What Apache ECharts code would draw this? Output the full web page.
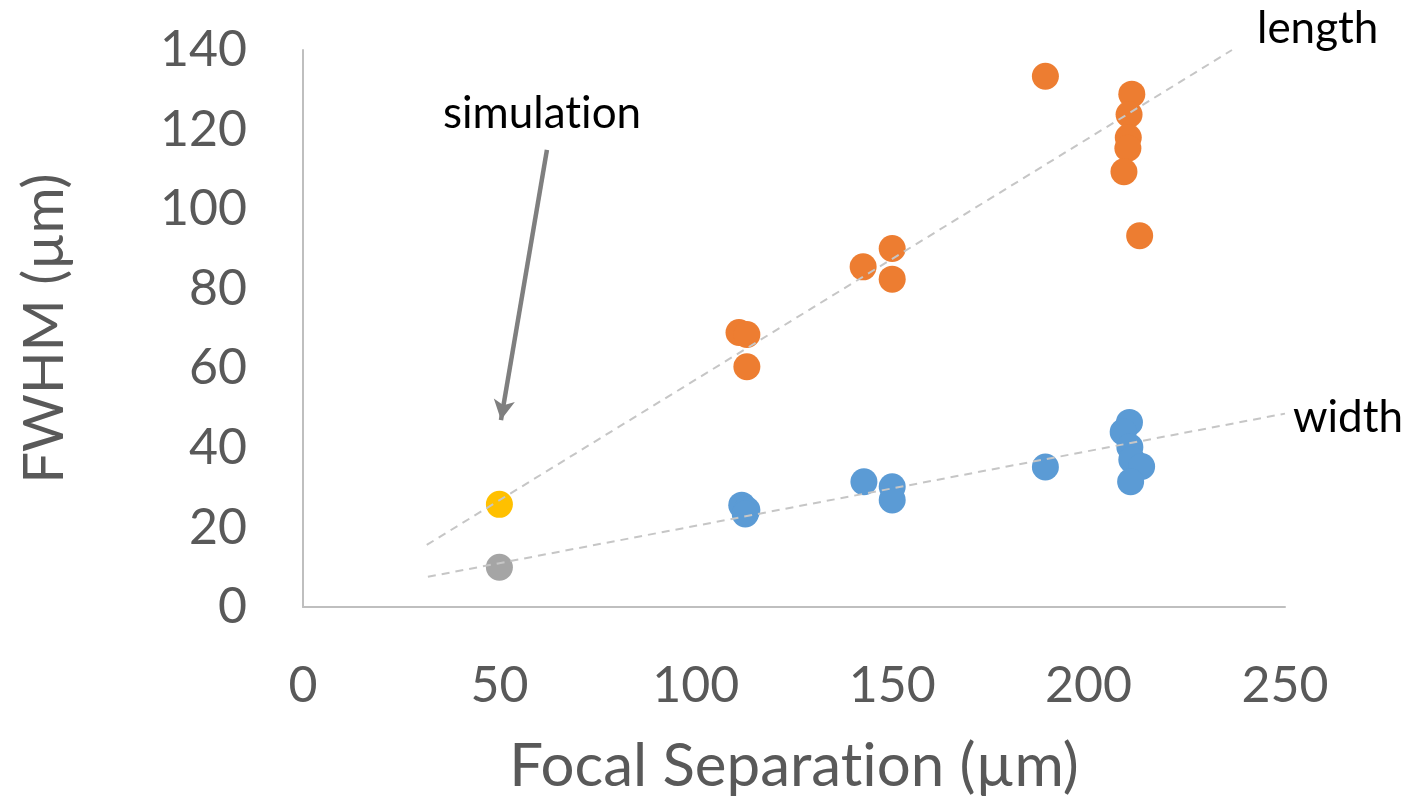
<!DOCTYPE html>
<html>
<head>
<meta charset="utf-8">
<script src="https://cdn.jsdelivr.net/npm/echarts@6/dist/echarts.min.js"></script>
<style>
  html, body { margin: 0; padding: 0; background: #fff; }
  #chart { width: 1407px; height: 805px; }
</style>
</head>
<body>
<div id="chart"></div>
<script>
// Measured FWHM of the focal spot versus focal separation (µm)
const lengthX = [189, 211, 210.3, 210.1, 210, 209, 213, 111, 113, 113, 142.6, 150, 150];
const lengthY = [133.4, 128.9, 123.8, 118, 115.3, 109.4, 93.3, 69, 68.5, 60.4, 85.5, 90.1, 82.4];

const widthX = [189, 210.4, 208.8, 210.5, 211, 213.5, 210.7, 142.8, 150, 150, 111.7, 113, 112.6];
const widthY = [35.2, 46.4, 44, 40.2, 37, 35.3, 31.5, 31.5, 30.2, 26.9, 25.6, 24.4, 23.4];

// Simulated values
const simX = [50];
const simLength = [25.8];
const simWidth = [10.0];

// Linear trend lines (end points)
const lengthTrendX = [31.5, 236.5];
const lengthTrendY = [15.6, 140];
const widthTrendX = [31.8, 250];
const widthTrendY = [7.6, 48.6];

// Axis ticks
const xTicks = [0, 50, 100, 150, 200, 250];
const yTicks = [0, 20, 40, 60, 80, 100, 120, 140];

const zip = (xs, ys) => xs.map((x, i) => [x, ys[i]]);

const FONT = 'Lato';
const GREY_TEXT = '#595959';
const AXIS_LINE = { show: true, lineStyle: { color: '#bfbfbf', width: 2 } };
// zero-width non-joiner keeps the "ti" pair from turning into a ligature
const ZWNJ = '\u200C';

const chart = echarts.init(document.getElementById('chart'), null, { renderer: 'canvas' });

const dotStyle = (color) => ({ color: color, opacity: 1 });
const trendStyle = { color: '#c6c6c6', width: 2, type: [8, 6] };

chart.setOption({
  backgroundColor: '#ffffff',
  animation: false,
  grid: { left: 303, right: 122, top: 50, bottom: 198 },
  xAxis: {
    type: 'value',
    min: xTicks[0], max: xTicks[xTicks.length - 1], interval: 50,
    name: 'Focal Separa' + 't' + ZWNJ + 'ion (µm)',
    nameLocation: 'middle',
    nameGap: 130,
    nameTextStyle: { fontFamily: FONT, fontSize: 60, color: GREY_TEXT },
    axisLine: AXIS_LINE,
    axisTick: { show: false },
    splitLine: { show: false },
    axisLabel: { fontFamily: FONT, fontSize: 50, color: GREY_TEXT, margin: 54 }
  },
  yAxis: {
    type: 'value',
    min: yTicks[0], max: yTicks[yTicks.length - 1], interval: 20,
    name: 'FWHM (µm)',
    nameLocation: 'middle',
    nameGap: 230,
    nameTextStyle: { fontFamily: FONT, fontSize: 56, color: GREY_TEXT },
    axisLine: AXIS_LINE,
    axisTick: { show: false },
    splitLine: { show: false },
    axisLabel: { fontFamily: FONT, fontSize: 50, color: GREY_TEXT, margin: 56 }
  },
  series: [
    {
      name: 'length', type: 'scatter', symbolSize: 27, z: 2,
      itemStyle: dotStyle('#ED7D31'),
      data: zip(lengthX, lengthY)
    },
    {
      name: 'width', type: 'scatter', symbolSize: 27, z: 2,
      itemStyle: dotStyle('#5B9BD5'),
      data: zip(widthX, widthY)
    },
    {
      name: 'simulation length', type: 'scatter', symbolSize: 27, z: 2,
      itemStyle: dotStyle('#FFC000'),
      data: zip(simX, simLength),
      markLine: {
        silent: true,
        symbol: ['none', 'arrow'],
        symbolSize: [16, 20],
        label: { show: false },
        lineStyle: { color: '#7f7f7f', width: 4.5, type: 'solid' },
        data: [[{ coord: [62.1, 114.9] }, { coord: [50.4, 47.0] }]]
      }
    },
    {
      name: 'simulation width', type: 'scatter', symbolSize: 27, z: 2,
      itemStyle: dotStyle('#A5A5A5'),
      data: zip(simX, simWidth)
    },
    {
      name: 'length trend', type: 'line', z: 3, symbol: 'none', silent: true,
      lineStyle: trendStyle,
      data: zip(lengthTrendX, lengthTrendY)
    },
    {
      name: 'width trend', type: 'line', z: 3, symbol: 'none', silent: true,
      lineStyle: trendStyle,
      data: zip(widthTrendX, widthTrendY)
    }
  ],
  graphic: [
    { type: 'text', left: 443, top: 92, style: { text: 'simula' + 't' + ZWNJ + 'ion', font: '44px Lato', fill: '#000' } },
    { type: 'text', left: 1257, top: 7, style: { text: 'length', font: '44px Lato', fill: '#000' } },
    { type: 'text', left: 1293, top: 396, style: { text: 'width', font: '44px Lato', fill: '#000' } }
  ]
});
</script>
</body>
</html>
